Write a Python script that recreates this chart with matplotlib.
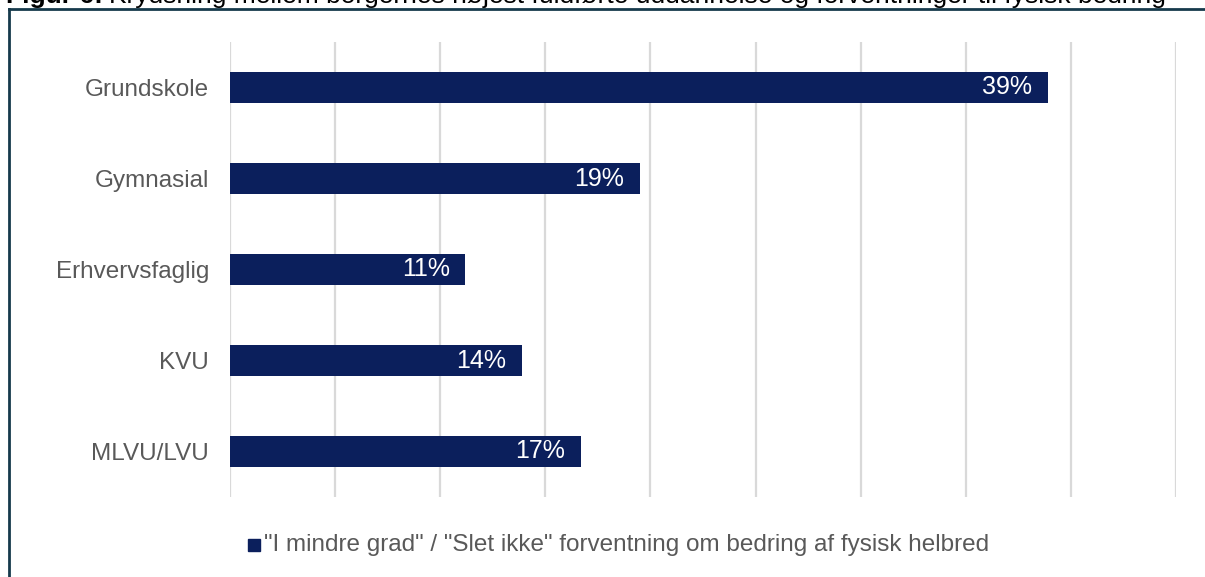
import numpy as np
import matplotlib.pyplot as plt
from matplotlib.patches import Rectangle

plt.rcParams['font.family'] = ['Liberation Sans', 'DejaVu Sans']

# data
categories = ["Grundskole", "Gymnasial", "Erhvervsfaglig", "KVU", "MLVU/LVU"]
values = [38.9, 19.5, 11.2, 13.9, 16.7]
labels = ["39%", "19%", "11%", "14%", "17%"]
series_name = '"I mindre grad" / "Slet ikke" forventning om bedring af fysisk helbred'
fig_no = "Figur 6:"
title = "Krydsning mellem borgernes højest fuldførte uddannelse og forventninger til fysisk bedring"

navy = "#0b1f5c"
grey = "#595959"
W, H = 1205, 577

fig = plt.figure(figsize=(W / 100, H / 100), dpi=100)
ax = fig.add_axes([230 / W, 1 - 497 / H, (1176 - 230) / W, (497 - 42) / H])

y = np.arange(len(categories))
ax.barh(y, values, height=0.35, color=navy, zorder=3)
for yi, v, lab in zip(y, values, labels):
    ax.text(v - 0.75, yi, lab, color="white", fontsize=18, ha="right", va="center", zorder=4)

ax.set_xlim(0, 45)
ax.set_ylim(4.5, -0.5)
ax.set_xticks(np.arange(0, 46, 5))
ax.set_xticklabels([])
ax.tick_params(axis="x", length=0)
ax.tick_params(axis="y", length=0, pad=15, labelsize=17.5, labelcolor=grey)
ax.set_yticks(y)
ax.set_yticklabels(categories)
ax.grid(axis="x", color="#d9d9d9", lw=1.6, zorder=0)
for s in ax.spines.values():
    s.set_visible(False)

# legend
fig.patches.append(Rectangle((248 / W, 1 - 551 / H), 12 / W, 12 / H,
                             transform=fig.transFigure, color=navy))
fig.text(264 / W, 1 - 545 / H, series_name, fontsize=17.5, color=grey, va="center")

# frame and cut-off caption
fig.add_artist(plt.Line2D([9 / W, 9 / W], [0, 1 - 9 / H], transform=fig.transFigure,
                          color="#163a4c", lw=2))
fig.add_artist(plt.Line2D([9 / W, 1], [1 - 9 / H, 1 - 9 / H], transform=fig.transFigure,
                          color="#163a4c", lw=2))
t1 = fig.text(6 / W, 1 - 3 / H, fig_no, fontsize=19, fontweight="bold", va="baseline")
fig.canvas.draw()
bb = t1.get_window_extent()
fig.text((bb.x1 + 6) / W, 1 - 3 / H, title, fontsize=19, va="baseline")

fig.savefig("out.png", dpi=100)
